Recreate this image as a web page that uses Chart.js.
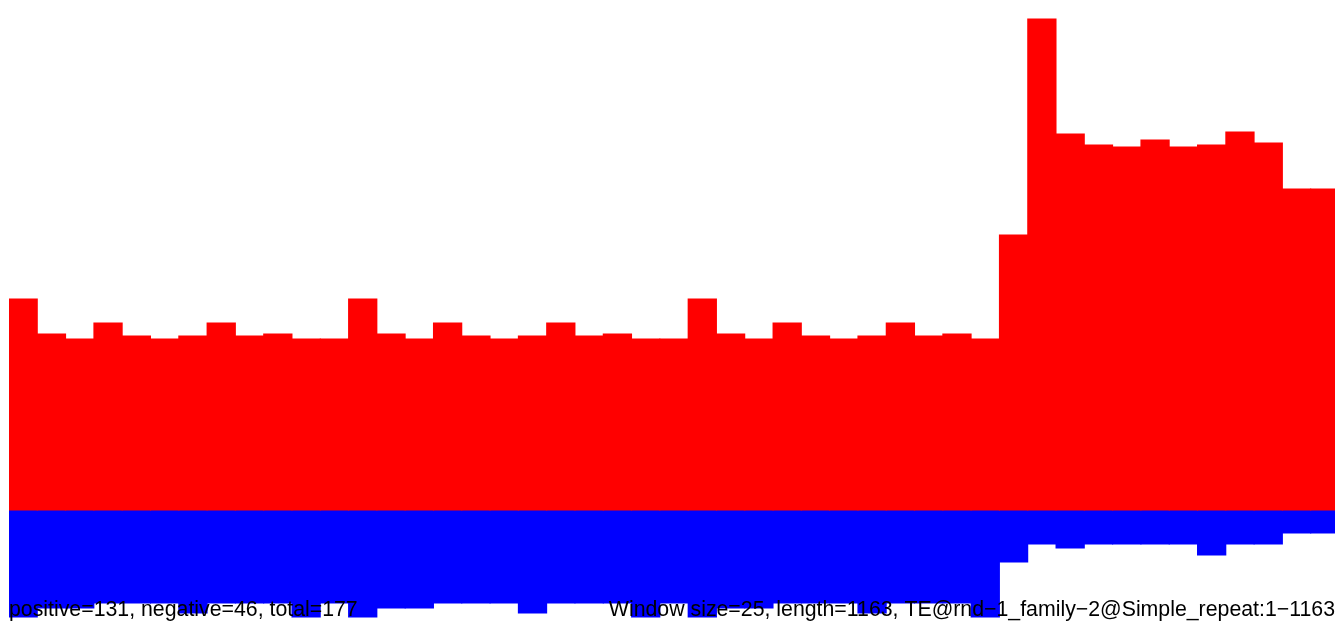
<!DOCTYPE html>
<html>
<head>
  <title>Window bar plot</title>
  <script src="https://cdn.jsdelivr.net/npm/chart.js"></script>
  <style>
    html, body { margin: 0; padding: 0; background: #fff; overflow: hidden; }
    #plot { display: block; }
  </style>
</head>
<body>
  <canvas id="plot" width="1339" height="621"></canvas>

  <script>
    // window start positions (window size 25 over length 1163)
    const windowStarts = [1, 26, 51, 76, 101, 126, 151, 176, 201, 226, 251, 276,
      301, 326, 351, 376, 401, 426, 451, 476, 501, 526, 551, 576,
      601, 626, 651, 676, 701, 726, 751, 776, 801, 826, 851, 876,
      901, 926, 951, 976, 1001, 1026, 1051, 1076, 1101, 1126, 1151];

    // score above zero per window
    const positiveScores = [21.1, 17.6, 17.1, 18.7, 17.4, 17.1, 17.4, 18.7, 17.4, 17.6, 17.1, 17.1,
      21.1, 17.6, 17.1, 18.7, 17.4, 17.1, 17.4, 18.7, 17.4, 17.6, 17.1, 17.1,
      21.1, 17.6, 17.1, 18.7, 17.4, 17.1, 17.4, 18.7, 17.4, 17.6, 17.1, 27.5,
      49.1, 37.6, 36.5, 36.3, 37.0, 36.3, 36.5, 37.8, 36.7, 32.1, 32.1];

    // score below zero per window
    const negativeScores = [-10.7, -9.8, -9.8, -9.3, -9.3, -9.3, -10.3, -9.3, -9.3, -9.3, -10.7, -9.3,
      -10.7, -9.8, -9.8, -9.3, -9.3, -9.3, -10.3, -9.3, -9.3, -9.3, -10.7, -9.3,
      -10.7, -9.8, -9.8, -9.3, -9.3, -9.3, -10.3, -9.3, -9.3, -9.3, -10.7, -5.2,
      -3.4, -3.8, -3.4, -3.4, -3.4, -3.4, -4.5, -3.4, -3.4, -2.3, -2.3];

    const leftNote = 'positive=131, negative=46, total=177';
    const rightNote = 'Window size=25, length=1163, TE@rnd\u22121_family\u22122@Simple_repeat:1\u22121163';

    // footer text drawn over the bars
    const notesPlugin = {
      id: 'notes',
      afterDraw(chart) {
        const ctx = chart.ctx;
        ctx.save();
        ctx.font = '21.3px "Liberation Sans", Arial, sans-serif';
        ctx.fillStyle = '#000';
        ctx.textBaseline = 'alphabetic';
        ctx.textAlign = 'left';
        ctx.fillText(leftNote, 9, 616);
        ctx.textAlign = 'right';
        ctx.fillText(rightNote, 1335, 616);
        ctx.restore();
      }
    };

    new Chart(document.getElementById('plot'), {
      type: 'bar',
      data: {
        labels: windowStarts,
        datasets: [
          {
            label: 'positive',
            data: positiveScores,
            backgroundColor: '#ff0000',
            borderWidth: 0,
            inflateAmount: 0.5,
            barPercentage: 1,
            categoryPercentage: 1
          },
          {
            label: 'negative',
            data: negativeScores,
            backgroundColor: '#0000ff',
            borderWidth: 0,
            inflateAmount: 0.5,
            barPercentage: 1,
            categoryPercentage: 1
          }
        ]
      },
      options: {
        responsive: false,
        animation: false,
        layout: { padding: { left: 9, right: 0, top: 0, bottom: 0 } },
        plugins: {
          legend: { display: false },
          tooltip: { enabled: false }
        },
        scales: {
          x: { display: false, stacked: true },
          y: { display: false, stacked: true, min: -11.1, max: 51.0 }
        }
      },
      plugins: [notesPlugin]
    });
  </script>
</body>
</html>
